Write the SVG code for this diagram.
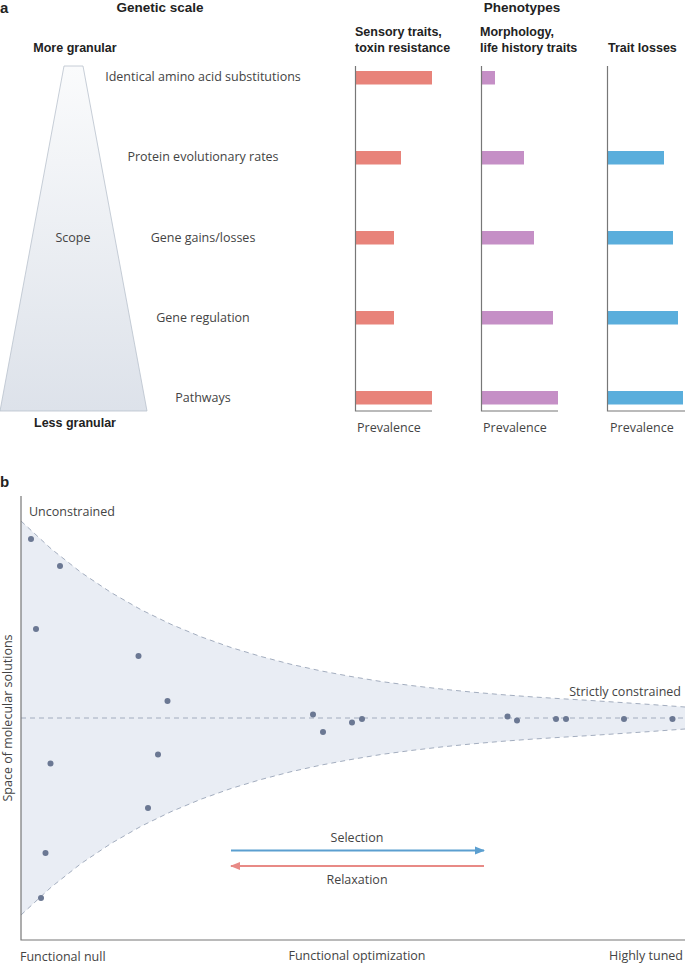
<svg xmlns="http://www.w3.org/2000/svg" width="685" height="965" viewBox="0 0 685 965">
<style>
.t{font-family:"Open Sans","Liberation Sans",Arial,sans-serif;font-size:12.5px;fill:#444}
.b{font-family:"Liberation Sans",Arial,sans-serif;font-size:12.5px;font-weight:bold;fill:#222}
.pl{font-family:"Liberation Sans",Arial,sans-serif;font-size:15px;font-weight:bold;fill:#222}
.m{text-anchor:middle}
.ax{stroke:#777;stroke-width:1.2;fill:none}
.red{fill:#e8837a}.pur{fill:#c58fc6}.blu{fill:#5aaedc}
.dash{stroke:#9aa5b8;stroke-width:0.9;stroke-dasharray:5 4;fill:none}
.dot{fill:#6b7893}
</style>
<defs>
<linearGradient id="tg" x1="0" y1="0" x2="0" y2="1">
<stop offset="0" stop-color="#fafbfc"/>
<stop offset="1" stop-color="#dde2ea"/>
</linearGradient>
<marker id="ab" viewBox="0 0 10 10" refX="9" refY="5" markerWidth="5" markerHeight="5" orient="auto-start-reverse"><path d="M0,1 L10,5 L0,9 Z" fill="#5b9fd0"/></marker>
<marker id="ar" viewBox="0 0 10 10" refX="9" refY="5" markerWidth="5" markerHeight="5" orient="auto-start-reverse"><path d="M0,1 L10,5 L0,9 Z" fill="#e88a86"/></marker>
</defs>

<!-- Panel a -->
<g id="panel-a-labels">
<text class="pl" x="0" y="13">a</text>
<text class="b" x="160" y="12" text-anchor="middle" style="font-size:13.5px">Genetic scale</text>
<text class="b" x="522" y="12" text-anchor="middle" style="font-size:13.5px">Phenotypes</text>
</g>
<g id="scope">
<path d="M64,66 L83,66 L147,411 L0,411 Z" fill="url(#tg)" stroke="#b9c1cd" stroke-width="0.8"/>
<text class="b" x="75" y="52" text-anchor="middle">More granular</text>
<text class="b" x="75" y="427" text-anchor="middle">Less granular</text>
<text class="t m" x="73" y="242">Scope</text>
</g>
<g id="levels">
<text class="t m" x="203" y="81">Identical amino acid substitutions</text>
<text class="t m" x="203" y="161">Protein evolutionary rates</text>
<text class="t m" x="203" y="242">Gene gains/losses</text>
<text class="t m" x="203" y="322">Gene regulation</text>
<text class="t m" x="203" y="402">Pathways</text>
</g>
<g id="col-sensory">
<text class="b" x="355" y="36">Sensory traits,</text>
<text class="b" x="355" y="52">toxin resistance</text>
<rect class="red" x="355" y="71" width="77" height="13.5"/>
<rect class="red" x="355" y="151" width="46" height="13.5"/>
<rect class="red" x="355" y="231" width="39" height="13.5"/>
<rect class="red" x="355" y="311" width="39" height="13.5"/>
<rect class="red" x="355" y="391" width="77" height="13.5"/>
<path class="ax" d="M355.5,66 V411 H432"/>
<text class="t" x="357" y="432">Prevalence</text>
</g>
<g id="col-morphology">
<text class="b" x="480" y="36">Morphology,</text>
<text class="b" x="480" y="52">life history traits</text>
<rect class="pur" x="481" y="71" width="14" height="13.5"/>
<rect class="pur" x="481" y="151" width="43" height="13.5"/>
<rect class="pur" x="481" y="231" width="53" height="13.5"/>
<rect class="pur" x="481" y="311" width="72" height="13.5"/>
<rect class="pur" x="481" y="391" width="77" height="13.5"/>
<path class="ax" d="M481.5,66 V411 H558"/>
<text class="t" x="483" y="432">Prevalence</text>
</g>
<g id="col-losses">
<text class="b" x="608" y="52">Trait losses</text>
<rect class="blu" x="607" y="151" width="57" height="13.5"/>
<rect class="blu" x="607" y="231" width="66" height="13.5"/>
<rect class="blu" x="607" y="311" width="71" height="13.5"/>
<rect class="blu" x="607" y="391" width="76" height="13.5"/>
<path class="ax" d="M607.5,66 V411 H685"/>
<text class="t" x="610" y="432">Prevalence</text>
</g>

<!-- Panel b -->
<g id="panel-b">
<text class="pl" x="0" y="487">b</text>
<path d="M21,521 L51,548.7 L81,572.4 L111,592.5 L141,609.7 L171,624.3 L201,636.8 L231,647.5 L261,656.5 L291,664.3 L321,670.9 L351,676.5 L381,681.5 L411,685.5 L441,689 L471,692 L501,694.6 L531,696.8 L561,698.7 L591,700.5 L621,702.5 L651,704.5 L685,707 L685,729 L651,731.5 L621,733.5 L591,735.5 L561,737.3 L531,739.2 L501,741.4 L471,744 L441,747 L411,750.5 L381,754.5 L351,759.5 L321,765.1 L291,771.7 L261,779.5 L231,788.5 L201,799.2 L171,811.7 L141,826.3 L111,843.5 L81,863.6 L51,887.3 L21,915 Z" fill="#e9edf4"/>
<path class="dash" d="M21,521 L51,548.7 L81,572.4 L111,592.5 L141,609.7 L171,624.3 L201,636.8 L231,647.5 L261,656.5 L291,664.3 L321,670.9 L351,676.5 L381,681.5 L411,685.5 L441,689 L471,692 L501,694.6 L531,696.8 L561,698.7 L591,700.5 L621,702.5 L651,704.5 L685,707"/>
<path class="dash" d="M21,915 L51,887.3 L81,863.6 L111,843.5 L141,826.3 L171,811.7 L201,799.2 L231,788.5 L261,779.5 L291,771.7 L321,765.1 L351,759.5 L381,754.5 L411,750.5 L441,747 L471,744 L501,741.4 L531,739.2 L561,737.3 L591,735.5 L621,733.5 L651,731.5 L685,729"/>
<path class="dash" d="M21,718 H685"/>
<path class="ax" d="M21,496 V940 H685"/>
<text class="t" x="29" y="516">Unconstrained</text>
<text class="t" x="681" y="696" text-anchor="end">Strictly constrained</text>
<text class="t m" transform="translate(12,718) rotate(-90)">Space of molecular solutions</text>
<text class="t" x="20" y="961">Functional null</text>
<text class="t m" x="357" y="960">Functional optimization</text>
<text class="t" x="683" y="960" text-anchor="end">Highly tuned</text>
</g>
<g id="solutions">
<circle class="dot" cx="31" cy="539" r="3"/>
<circle class="dot" cx="60" cy="566" r="3"/>
<circle class="dot" cx="36" cy="629" r="3"/>
<circle class="dot" cx="138.5" cy="656" r="3"/>
<circle class="dot" cx="167.5" cy="701" r="3"/>
<circle class="dot" cx="313" cy="714.5" r="3"/>
<circle class="dot" cx="323" cy="732" r="3"/>
<circle class="dot" cx="352" cy="722.5" r="3"/>
<circle class="dot" cx="362" cy="719" r="3"/>
<circle class="dot" cx="158" cy="754.5" r="3"/>
<circle class="dot" cx="50.5" cy="763.5" r="3"/>
<circle class="dot" cx="148" cy="808" r="3"/>
<circle class="dot" cx="45.5" cy="853" r="3"/>
<circle class="dot" cx="41" cy="898" r="3"/>
<circle class="dot" cx="507.5" cy="716.5" r="3"/>
<circle class="dot" cx="517" cy="720.5" r="3"/>
<circle class="dot" cx="556" cy="719" r="3"/>
<circle class="dot" cx="566" cy="719" r="3"/>
<circle class="dot" cx="624" cy="719" r="3"/>
<circle class="dot" cx="672.5" cy="719" r="3"/>
</g>
<g id="connectors">
<line x1="231" y1="850.5" x2="484" y2="850.5" stroke="#5b9fd0" stroke-width="2" marker-end="url(#ab)"/>
<line x1="484" y1="866" x2="231" y2="866" stroke="#e88a86" stroke-width="2" marker-end="url(#ar)"/>
<text class="t m" x="357" y="842">Selection</text>
<text class="t m" x="357" y="884">Relaxation</text>
</g>
</svg>
